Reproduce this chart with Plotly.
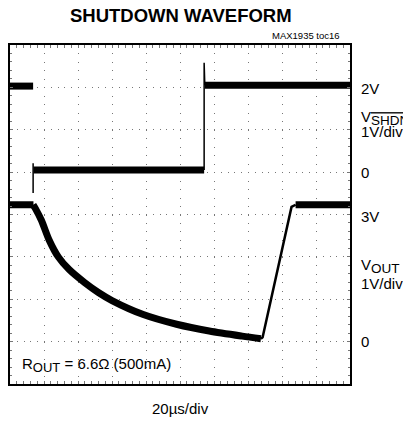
import plotly.graph_objects as go

# ---- data (time in µs, voltage in V) ----
# V_SHDN trace
shdn_hi1_t = [0, 13.6]
shdn_hi1_v = [2.03, 2.03]
shdn_fall_t = [13.6, 13.6]
shdn_fall_v = [0.21, -0.49]
shdn_lo_t = [13.8, 114.2]
shdn_lo_v = [0.05, 0.05]
shdn_rise_t = [114.2, 114.2, 114.6]
shdn_rise_v = [0.05, 2.58, 2.05]
shdn_hi2_t = [114.6, 200]
shdn_hi2_v = [2.05, 2.05]

# V_OUT trace
vout_flat_t = [0, 13.8]
vout_flat_v = [3.23, 3.23]
vout_decay_t = [13.6, 14.8, 18.4, 23.0, 28.4, 34.8, 44.0, 52.0, 60.0, 78.4, 98.0, 117.2, 136.6, 147.6]
vout_decay_v = [3.23, 3.15, 2.87, 2.40, 2.00, 1.70, 1.39, 1.16, 0.97, 0.64, 0.41, 0.25, 0.13, 0.07]
vout_ramp_t = [147.6, 148.6, 165.6, 168.0]
vout_ramp_v = [0.07, 0.10, 3.18, 3.23]
vout_hi_t = [168.0, 200]
vout_hi_v = [3.23, 3.23]

FONT = "Liberation Sans, Arial, sans-serif"
BLACK = "#000000"

fig = go.Figure()

def add(t, v, w, yaxis="y", shape="linear"):
    fig.add_trace(go.Scatter(x=t, y=v, mode="lines", yaxis=yaxis,
                             line=dict(color=BLACK, width=w, shape=shape, smoothing=0.8),
                             showlegend=False, hoverinfo="skip"))

add(shdn_hi1_t, shdn_hi1_v, 7)
add(shdn_fall_t, shdn_fall_v, 1.5)
add(shdn_lo_t, shdn_lo_v, 7)
add(shdn_rise_t, shdn_rise_v, 1.5)
add(shdn_hi2_t, shdn_hi2_v, 7)

add(vout_flat_t, vout_flat_v, 7, "y2")
add(vout_decay_t, vout_decay_v, 7, "y2", "spline")
add(vout_ramp_t, vout_ramp_v, 2.5, "y2")
add(vout_hi_t, vout_hi_v, 7, "y2")

GRID = "#777777"

fig.update_layout(
    width=403, height=422,
    margin=dict(l=10, r=53, t=45, b=38),
    paper_bgcolor="white", plot_bgcolor="white",
    font=dict(family=FONT, color=BLACK),
    xaxis=dict(range=[0, 200], dtick=20, tick0=0, showticklabels=False,
               showgrid=True, gridcolor=GRID, gridwidth=1, griddash="1px,7.475px",
               zeroline=False, showline=True, linecolor=BLACK, linewidth=2,
               mirror="allticks", ticks="inside", ticklen=3, tickcolor=GRID,
               minor=dict(dtick=4, ticks="inside", ticklen=2, tickcolor=GRID, showgrid=False),
               fixedrange=True),
    yaxis=dict(range=[-5, 3], dtick=1, tick0=0, showticklabels=False,
               showgrid=True, gridcolor=GRID, gridwidth=1, griddash="1px,5.8px",
               zeroline=False, showline=True, linecolor=BLACK, linewidth=2,
               mirror="allticks", ticks="inside", ticklen=3, tickcolor=GRID,
               minor=dict(dtick=0.2, ticks="inside", ticklen=2, tickcolor=GRID, showgrid=False),
               fixedrange=True),
    yaxis2=dict(range=[-1, 7], overlaying="y", visible=False, fixedrange=True),
)

ann = []
ann.append(dict(text="<b>SHUTDOWN WAVEFORM</b>", xref="paper", yref="paper",
                x=0.503, y=1.087, xanchor="center", yanchor="middle",
                showarrow=False, font=dict(size=18.5, family=FONT)))
ann.append(dict(text="MAX1935 toc16", xref="paper", yref="paper",
                x=0.976, y=1.029, xanchor="right", yanchor="middle",
                showarrow=False, font=dict(size=9.5, family=FONT)))
ann.append(dict(text="20µs/div", xref="paper", yref="paper",
                x=0.5, y=-0.071, xanchor="center", yanchor="middle",
                showarrow=False, font=dict(size=15, family=FONT)))
ann.append(dict(text='R<sub><span style="font-size:13px">OUT</span></sub> = 6.6Ω (500mA)',
                xref="paper", yref="paper",
                x=0.029, y=0.056, xanchor="left", yanchor="middle",
                showarrow=False, font=dict(size=15, family=FONT)))

right = [
    ("2V", "y", 1.97),
    ('V<sub><span style="font-size:13.5px;text-decoration:overline">SHDN</span></sub>', "y", 1.27),
    ("1V/div", "y", 0.97),
    ("0", "y", 0.0),
    ("3V", "y2", 2.96),
    ('V<sub><span style="font-size:13.5px">OUT</span></sub>', "y2", 1.79),
    ("1V/div", "y2", 1.38),
    ("0", "y2", 0.0),
]
for txt, yr, yv in right:
    ann.append(dict(text=txt, xref="paper", yref=yr, x=1.026, y=yv,
                    xanchor="left", yanchor="middle", showarrow=False,
                    font=dict(size=15, family=FONT)))

fig.update_layout(annotations=ann)
fig.write_html("out.html", config={"displayModeBar": False},
               post_script="document.body.style.margin='0';document.body.style.padding='0';")
